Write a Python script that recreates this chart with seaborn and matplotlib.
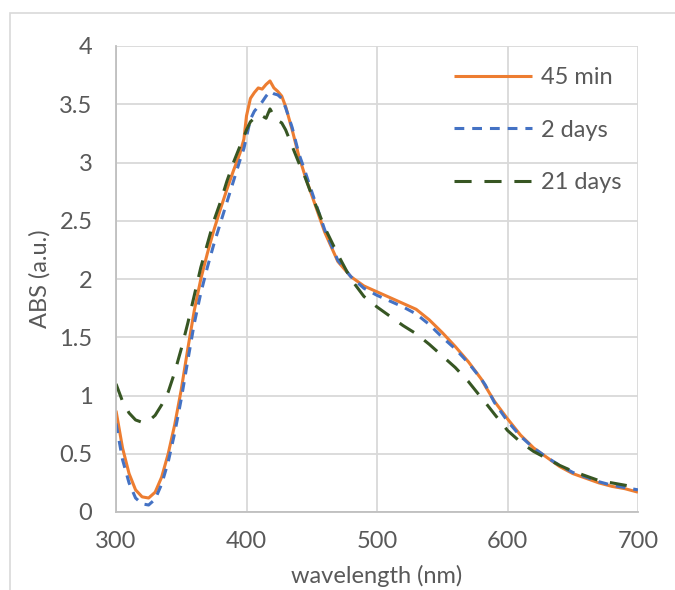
import numpy as np
import pandas as pd
import matplotlib
matplotlib.use("Agg")
import matplotlib.pyplot as plt
import seaborn as sns
from matplotlib.patches import Rectangle

wavelength = [300, 305, 310, 315, 320, 325, 330, 335, 340, 345, 350, 355, 360, 365, 370,
              375, 380, 385, 390, 395, 398, 400, 403, 406, 409, 412, 415, 418, 421, 424,
              427, 430, 435, 440, 445, 450, 460, 470, 480, 490, 500, 510, 520, 530, 540,
              550, 560, 570, 580, 583, 590, 600, 610, 620, 630, 640, 650, 660, 670, 680,
              690, 700]

abs_45min = [0.87, 0.55, 0.33, 0.19, 0.13, 0.12, 0.17, 0.30, 0.50, 0.75, 1.05, 1.40, 1.73, 2.00, 2.22,
             2.42, 2.60, 2.77, 2.93, 3.08, 3.20, 3.40, 3.55, 3.60, 3.64, 3.63, 3.67, 3.70, 3.64, 3.61,
             3.57, 3.48, 3.28, 3.06, 2.88, 2.72, 2.40, 2.15, 2.02, 1.94, 1.89, 1.84, 1.79, 1.74, 1.65,
             1.54, 1.42, 1.29, 1.14, 1.08, 0.95, 0.80, 0.66, 0.55, 0.47, 0.39, 0.33, 0.29, 0.25, 0.22,
             0.20, 0.17]

abs_2days = [0.76, 0.45, 0.25, 0.12, 0.07, 0.06, 0.11, 0.24, 0.43, 0.68, 0.97, 1.30, 1.62, 1.88, 2.10,
             2.30, 2.48, 2.66, 2.84, 3.02, 3.12, 3.22, 3.37, 3.44, 3.48, 3.52, 3.57, 3.61, 3.59, 3.58,
             3.55, 3.47, 3.30, 3.08, 2.92, 2.75, 2.42, 2.16, 2.02, 1.92, 1.86, 1.81, 1.76, 1.70, 1.61,
             1.50, 1.40, 1.28, 1.14, 1.09, 0.94, 0.78, 0.65, 0.55, 0.47, 0.40, 0.34, 0.30, 0.26, 0.23,
             0.21, 0.19]

abs_21days = [1.10, 0.95, 0.85, 0.79, 0.77, 0.78, 0.83, 0.92, 1.03, 1.20, 1.40, 1.62, 1.86, 2.10, 2.30,
              2.50, 2.66, 2.84, 3.00, 3.14, 3.22, 3.28, 3.35, 3.38, 3.41, 3.40, 3.38, 3.46, 3.40, 3.36,
              3.34, 3.28, 3.14, 3.00, 2.87, 2.72, 2.44, 2.21, 2.00, 1.85, 1.76, 1.68, 1.60, 1.53, 1.44,
              1.34, 1.24, 1.12, 0.98, 0.94, 0.84, 0.70, 0.60, 0.52, 0.46, 0.40, 0.35, 0.31, 0.27, 0.25,
              0.23, 0.21]

series_labels = ["45 min", "2 days", "21 days"]
series_colors = ["#ED7D31", "#4472C4", "#375623"]
x_ticks = [300, 400, 500, 600, 700]
y_ticks = [0, 0.5, 1, 1.5, 2, 2.5, 3, 3.5, 4]
y_tick_labels = ["0", "0.5", "1", "1.5", "2", "2.5", "3", "3.5", "4"]

sns.set_theme(style="white")
plt.rcParams["font.family"] = ["Lato", "DejaVu Sans"]

fig = plt.figure(figsize=(6.75, 5.9), dpi=100)
ax = fig.add_axes([116 / 675, 1 - 512 / 590, (638 - 116) / 675, (512 - 46) / 590])

# outer chart border (top and left visible)
fig.patches.append(Rectangle((10 / 675, -0.2), 1.2, 1 - 13 / 590 + 0.2,
                             transform=fig.transFigure, fill=False,
                             edgecolor="#D9D9D9", linewidth=1.2, zorder=0))

dash_styles = [None, (3.2, 2.6), (5.6, 4.2)]
data_lists = [abs_45min, abs_2days, abs_21days]
for vals, lab, col, ds in zip(data_lists, series_labels, series_colors, dash_styles):
    df = pd.DataFrame({"wavelength": wavelength, "abs": vals})
    sns.lineplot(data=df, x="wavelength", y="abs", color=col, label=lab,
                 linewidth=2.2, ax=ax, sort=True)
    line = ax.lines[-1]
    if ds is not None:
        line.set_dashes(ds)
    line.set_solid_capstyle("butt")
    line.set_dash_capstyle("butt")

ax.set_xlim(300, 700)
ax.set_ylim(0, 4)
ax.set_xticks(x_ticks)
ax.set_yticks(y_ticks)
ax.set_yticklabels(y_tick_labels)
ax.grid(True, color="#D9D9D9", linewidth=1.3)
ax.set_axisbelow(True)
for s in ["top", "right"]:
    ax.spines[s].set_visible(False)
for s in ["left", "bottom"]:
    ax.spines[s].set_color("#BFBFBF")
    ax.spines[s].set_linewidth(1.3)

ax.tick_params(axis="both", length=0, labelsize=17, labelcolor="#595959")
ax.tick_params(axis="y", pad=17)
ax.tick_params(axis="x", pad=14)

ax.set_xlabel("wavelength (nm)", fontsize=17, color="#595959")
ax.set_ylabel("ABS (a.u.)", fontsize=17, color="#595959")
ax.xaxis.set_label_coords(0.5, -0.113)
ax.yaxis.set_label_coords(-0.125, 0.5)

leg = ax.legend(loc="upper right", bbox_to_anchor=(1.0, 0.99), frameon=False,
                fontsize=17, labelcolor="#595959", handlelength=3.3,
                handletextpad=0.4, labelspacing=1.33, borderaxespad=0.3)
for h in leg.get_lines():
    h.set_linewidth(2.2)

fig.savefig("out.png", dpi=100, facecolor="white")
